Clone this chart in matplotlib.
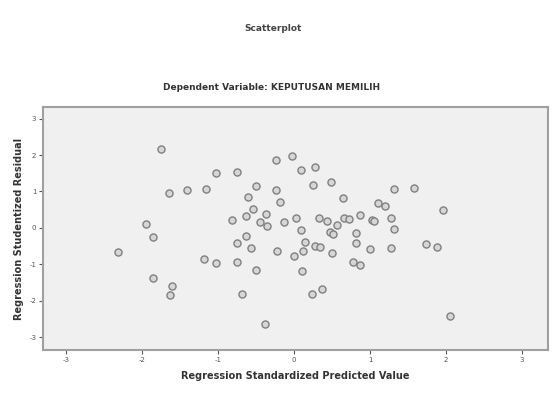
import matplotlib.pyplot as plt

# standardized predicted value (x) vs studentized residual (y)
pred = [-1.75, -1.95, -1.85, -2.31, -1.85, -1.60, -1.63, -1.65, -1.41, -1.16,
        -1.03, -0.75, -1.19, -1.03, -0.75, -0.69, -0.38, -0.50, -0.57, -0.63,
        -0.75, -0.82, -0.63, -0.54, -0.60, -0.50, -0.37, -0.45, -0.35, -0.24,
        -0.24, -0.19, -0.22, -0.03, 0.09, 0.28, 0.25, 0.49, 0.65, 1.31,
        1.58, 1.96, 1.11, 1.20, 0.03, -0.13, 0.09, 0.33, 0.43, 0.56,
        0.47, 0.51, 0.66, 0.72, 0.87, 1.02, 1.05, 1.27, 1.31, 0.82,
        0.82, 0.14, 0.28, 0.34, 0.12, 0.00, 0.50, 1.00, 1.27, 1.74,
        1.88, 0.78, 0.87, 0.11, 0.37, 0.24, 2.05]
resid = [2.16, 0.10, -0.26, -0.67, -1.38, -1.58, -1.84, 0.95, 1.03, 1.06,
         1.50, 1.53, -0.84, -0.97, -0.94, -1.81, -2.63, -1.16, -0.56, -0.23,
         -0.40, 0.21, 0.32, 0.51, 0.86, 1.16, 0.38, 0.16, 0.06, 1.87,
         1.04, 0.72, -0.62, 1.96, 1.59, 1.68, 1.18, 1.25, 0.82, 1.06,
         1.09, 0.49, 0.68, 0.60, 0.28, 0.15, -0.05, 0.27, 0.20, 0.08,
         -0.10, -0.16, 0.27, 0.24, 0.36, 0.22, 0.20, 0.27, -0.04, -0.13,
         -0.40, -0.38, -0.49, -0.53, -0.62, -0.77, -0.70, -0.59, -0.56, -0.44,
         -0.53, -0.94, -1.02, -1.17, -1.67, -1.81, -2.41]

ticks = [-3, -2, -1, 0, 1, 2, 3]

fig = plt.figure(figsize=(5.54, 3.96), dpi=100)
ax = fig.add_axes([0.078, 0.116, 0.911, 0.614])
ax.set_facecolor('#f0f0f0')

ax.scatter(pred, resid, s=26, facecolor='#d6d6d6', edgecolor='#808080',
           linewidth=1.0, zorder=3)

ax.set_xlim(-3.3, 3.34)
ax.set_ylim(-3.35, 3.32)
ax.set_xticks(ticks)
ax.set_yticks(ticks)
ax.set_xticklabels([str(t) for t in ticks])
ax.set_yticklabels([str(t) for t in ticks])
ax.tick_params(labelsize=5, colors='#555555', length=3, width=0.8, pad=2)

for s in ax.spines.values():
    s.set_color('#a0a0a0')
    s.set_linewidth(1.5)

ax.set_xlabel('Regression Standardized Predicted Value', fontsize=7,
              fontweight='bold', color='#333333', labelpad=6)
ax.set_ylabel('Regression Studentized Residual', fontsize=7,
              fontweight='bold', color='#333333', labelpad=4)

fig.text(0.493, 0.927, 'Scatterplot', ha='center', va='center', fontsize=6.5,
         fontweight='bold', color='#444444')
fig.text(0.49, 0.778, 'Dependent Variable: KEPUTUSAN MEMILIH', ha='center',
         va='center', fontsize=6.5, fontweight='bold', color='#333333')

fig.savefig('out.png', dpi=100)
